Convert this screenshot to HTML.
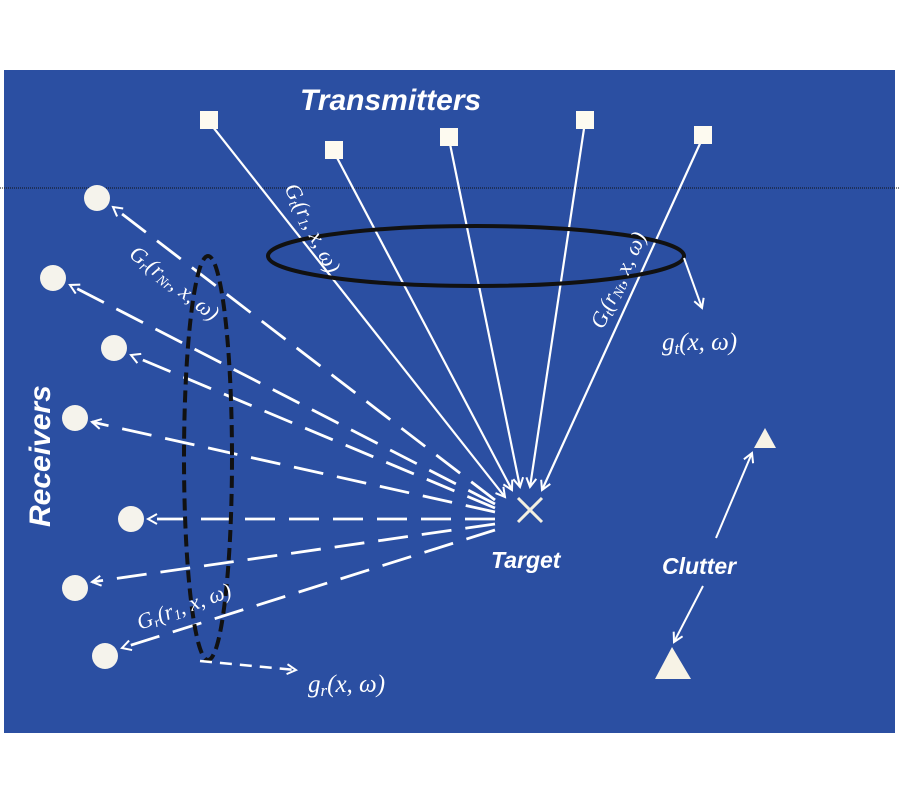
<!DOCTYPE html>
<html><head><meta charset="utf-8"><style>
html,body{margin:0;padding:0;background:#fff;}
svg{display:block;}
</style></head><body>
<svg width="900" height="800" viewBox="0 0 900 800" xmlns="http://www.w3.org/2000/svg">
<defs>
<marker id="a" markerWidth="12" markerHeight="12" refX="10" refY="6" orient="auto" markerUnits="userSpaceOnUse">
<path d="M1,1 L10,6 L1,11" fill="none" stroke="#fff" stroke-width="2"/>
</marker>
</defs>
<rect x="4" y="70" width="891" height="663" fill="#2b4fa2"/>
<line x1="0" y1="188" x2="900" y2="188" stroke="#111" stroke-width="1" stroke-dasharray="1,1"/>
<g stroke="#fff" stroke-width="2.2" fill="none" marker-end="url(#a)">
<line x1="209" y1="122" x2="505" y2="497"/>
<line x1="334" y1="152" x2="512" y2="490"/>
<line x1="449" y1="139" x2="520" y2="487"/>
<line x1="585" y1="122" x2="530" y2="487"/>
<line x1="703" y1="137" x2="542" y2="490"/>
</g>
<g fill="#fdfaf0">
<rect x="200" y="111" width="18" height="18"/>
<rect x="325" y="141" width="18" height="18"/>
<rect x="440" y="128" width="18" height="18"/>
<rect x="576" y="111" width="18" height="18"/>
<rect x="694" y="126" width="18" height="18"/>
</g>
<g stroke="#fff" stroke-width="2.8" fill="none" stroke-dasharray="30,14" marker-end="url(#a)">
<line x1="495" y1="500" x2="113" y2="207"/>
<line x1="495" y1="504" x2="70" y2="285"/>
<line x1="495" y1="508" x2="131" y2="355"/>
<line x1="495" y1="512" x2="92" y2="422"/>
<line x1="495" y1="519" x2="148" y2="519"/>
<line x1="495" y1="524" x2="92" y2="582"/>
<line x1="495" y1="530" x2="122" y2="648"/>
</g>
<g fill="#f5f3ec">
<circle cx="97" cy="198" r="13"/>
<circle cx="53" cy="278" r="13"/>
<circle cx="114" cy="348" r="13"/>
<circle cx="75" cy="418" r="13"/>
<circle cx="131" cy="519" r="13"/>
<circle cx="75" cy="588" r="13"/>
<circle cx="105" cy="656" r="13"/>
</g>
<g stroke="#f4f0e0" stroke-width="3">
<line x1="518" y1="498" x2="542" y2="522"/>
<line x1="542" y1="498" x2="518" y2="522"/>
</g>
<ellipse cx="476" cy="256" rx="208" ry="30" fill="none" stroke="#111" stroke-width="4"/>
<ellipse cx="208" cy="458" rx="24" ry="202" fill="none" stroke="#111" stroke-width="4" stroke-dasharray="12,6"/>
<line x1="684" y1="258" x2="702" y2="308" stroke="#fff" stroke-width="2" marker-end="url(#a)"/>
<line x1="200" y1="661" x2="296" y2="670" stroke="#fff" stroke-width="2.5" stroke-dasharray="12,8" marker-end="url(#a)"/>
<polygon points="765,428 776,448 754,448" fill="#f7f3e6"/>
<polygon points="672,647 691,679 655,679" fill="#f7f3e6"/>
<line x1="716" y1="538" x2="752" y2="453" stroke="#fff" stroke-width="2" marker-end="url(#a)"/>
<line x1="703" y1="586" x2="674" y2="642" stroke="#fff" stroke-width="2" marker-end="url(#a)"/>
<g font-family="Liberation Sans, sans-serif" font-weight="bold" font-style="italic" fill="#fff">
<text x="300" y="110" font-size="30">Transmitters</text>
<text x="491" y="568" font-size="23">Target</text>
<text x="662" y="574" font-size="23">Clutter</text>
<text transform="translate(50,527) rotate(-90)" font-size="30">Receivers</text>
</g>
<g font-family="Liberation Serif, serif" font-style="italic" fill="#fff" font-size="25">
<text x="662" y="350">g<tspan font-size="17" dy="4">t</tspan><tspan dy="-4">(x, ω)</tspan></text>
<text x="308" y="692">g<tspan font-size="17" dy="4">r</tspan><tspan dy="-4">(x, ω)</tspan></text>
<text transform="translate(284,188) rotate(63)" font-size="22">G<tspan font-size="14" dy="3">t</tspan><tspan dy="-3">(r</tspan><tspan font-size="14" dy="3">1</tspan><tspan dy="-3">, x, ω)</tspan></text>
<text transform="translate(603,330) rotate(-65)" font-size="22">G<tspan font-size="14" dy="3">t</tspan><tspan dy="-3">(r</tspan><tspan font-size="14" dy="3">Nt</tspan><tspan dy="-3">, x, ω)</tspan></text>
<text transform="translate(128,256) rotate(38)" font-size="22">G<tspan font-size="14" dy="3">r</tspan><tspan dy="-3">(r</tspan><tspan font-size="14" dy="3">Nr</tspan><tspan dy="-3">, x, ω)</tspan></text>
<text transform="translate(140,630) rotate(-20)" font-size="22">G<tspan font-size="14" dy="3">r</tspan><tspan dy="-3">(r</tspan><tspan font-size="14" dy="3">1</tspan><tspan dy="-3">, x, ω)</tspan></text>
</g>
</svg>
</body></html>
